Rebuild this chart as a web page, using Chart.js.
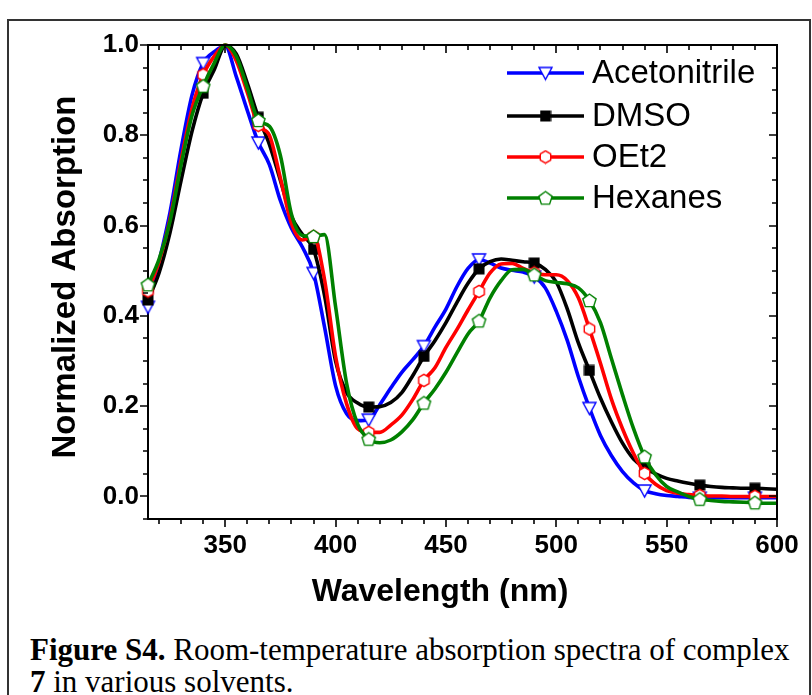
<!DOCTYPE html>
<html><head><meta charset="utf-8">
<script src="https://cdn.jsdelivr.net/npm/chart.js@4.4.1/dist/chart.umd.min.js"></script>
<style>
html,body{margin:0;padding:0;background:#fff;}
#wrap{position:relative;width:812px;height:695px;overflow:hidden;background:#fff;}
#frame{position:absolute;left:7px;top:19px;width:804px;height:720px;border:2px solid #333;box-sizing:border-box;}
#c{position:absolute;left:0;top:0;}
#cap{position:absolute;left:30px;top:634px;font-family:"Liberation Serif","Times New Roman",serif;font-size:31px;line-height:32px;color:#000;white-space:nowrap;}
</style></head>
<body><div id="wrap"><div id="frame"></div><canvas id="c" width="812" height="625"></canvas>
<div id="cap"><b>Figure S4.</b> Room-temperature absorption spectra of complex<br><b>7</b> in various solvents.</div></div>
<script>
// ---- data ----
const wavelengths = [315,320,325,330,335,340,345,350,355,360,365,370,375,380,385,390,395,400,405,410,415,420,425,430,435,440,445,450,455,460,465,470,475,480,485,490,495,500,505,510,515,520,525,530,535,540,545,550,555,560,565,570,575,580,585,590,595,600];
const acetonitrile = [0.42,0.52,0.63,0.77,0.89,0.96,0.985,0.998,0.93,0.855,0.784,0.735,0.655,0.594,0.552,0.495,0.375,0.245,0.183,0.168,0.17,0.203,0.24,0.275,0.303,0.333,0.375,0.415,0.465,0.505,0.525,0.517,0.506,0.501,0.497,0.487,0.462,0.41,0.345,0.265,0.196,0.135,0.09,0.055,0.03,0.013,0.006,0.002,0.0,-0.002,-0.003,-0.003,-0.003,-0.003,-0.003,-0.003,-0.003,-0.003];
const dmso = [0.435,0.495,0.585,0.70,0.81,0.893,0.945,0.998,0.98,0.915,0.84,0.78,0.70,0.62,0.58,0.547,0.445,0.30,0.23,0.207,0.198,0.199,0.208,0.23,0.268,0.31,0.345,0.385,0.43,0.472,0.504,0.52,0.526,0.523,0.52,0.517,0.503,0.475,0.415,0.34,0.279,0.218,0.165,0.118,0.083,0.064,0.05,0.04,0.034,0.029,0.025,0.022,0.02,0.019,0.018,0.018,0.017,0.016];
const oet2 = [0.455,0.52,0.615,0.745,0.86,0.934,0.975,1.0,0.965,0.895,0.822,0.80,0.705,0.605,0.568,0.576,0.48,0.31,0.205,0.15,0.142,0.142,0.158,0.18,0.215,0.257,0.285,0.33,0.37,0.413,0.454,0.495,0.515,0.516,0.505,0.495,0.491,0.491,0.478,0.44,0.371,0.295,0.215,0.15,0.095,0.051,0.027,0.013,0.007,0.004,0.002,0.001,0.001,0.0,0.0,0.0,0.0,0.0];
const hexanes = [0.469,0.525,0.61,0.735,0.845,0.909,0.96,1.0,0.975,0.905,0.833,0.82,0.755,0.625,0.578,0.576,0.58,0.42,0.25,0.16,0.127,0.119,0.125,0.143,0.17,0.207,0.238,0.275,0.318,0.36,0.389,0.44,0.478,0.502,0.503,0.491,0.478,0.474,0.471,0.462,0.434,0.385,0.305,0.225,0.15,0.088,0.048,0.022,0.01,0.0,-0.006,-0.009,-0.011,-0.012,-0.013,-0.014,-0.015,-0.015];
const markerWavelengths = [315,340,365,390,415,440,465,490,515,540,565,590];
const seriesNames = ['Acetonitrile','DMSO','OEt2','Hexanes'];
const seriesColors = ['#0000ff','#000000','#ff0000','#008000'];
const xTitle = 'Wavelength (nm)';
const yTitle = 'Normalized Absorption';
const xTickLabels = [350,400,450,500,550,600];
const xMinorTicks = [320,330,340,350,360,370,380,390,400,410,420,430,440,450,460,470,480,490,500,510,520,530,540,550,560,570,580,590,600];
const yTickLabels = [0.0,0.2,0.4,0.6,0.8,1.0];
const yMinorTicks = [-0.05,0.0,0.05,0.1,0.15,0.2,0.25,0.3,0.35,0.4,0.45,0.5,0.55,0.6,0.65,0.7,0.75,0.8,0.85,0.9,0.95,1.0];

// ---- markers ----
function mk(size, draw){const c=document.createElement('canvas');c.width=size;c.height=size;const g=c.getContext('2d');draw(g,size);return c;}
const markers = [
  mk(17,(g,s)=>{g.beginPath();g.moveTo(2,3);g.lineTo(15,3);g.lineTo(8.5,15);g.closePath();g.fillStyle='#fff';g.fill();g.strokeStyle='#0000ff';g.lineWidth=1.4;g.stroke();}),
  mk(12,(g,s)=>{g.fillStyle='#000';g.fillRect(0.5,0.5,11,11);}),
  mk(15,(g,s)=>{g.beginPath();for(let i=0;i<6;i++){const a=Math.PI/6+i*Math.PI/3;const px=7.5+6*Math.cos(a),py=7.5+6.2*Math.sin(a);i?g.lineTo(px,py):g.moveTo(px,py);}g.closePath();g.fillStyle='#fff';g.fill();g.strokeStyle='#ff0000';g.lineWidth=1.4;g.stroke();}),
  mk(17,(g,s)=>{g.beginPath();for(let i=0;i<5;i++){const a=-Math.PI/2+i*2*Math.PI/5;const px=8.5+7*Math.cos(a),py=9+7*Math.sin(a);i?g.lineTo(px,py):g.moveTo(px,py);}g.closePath();g.fillStyle='#fff';g.fill();g.strokeStyle='#008000';g.lineWidth=1.4;g.stroke();})
];

const seriesValues = [acetonitrile, dmso, oet2, hexanes];
const datasets = seriesValues.map((vals,i)=>({
  label: seriesNames[i],
  data: wavelengths.map((w,j)=>({x:w,y:vals[j]})),
  borderColor: seriesColors[i],
  backgroundColor: seriesColors[i],
  borderWidth: 3.6,
  cubicInterpolationMode: 'monotone',
  pointStyle: markers[i],
  pointRadius: ctx => markerWavelengths.includes(wavelengths[ctx.dataIndex]) ? 6 : 0,
  pointHoverRadius: 0,
  clip: false,
  order: 4 - i
}));

const FONT = '"Liberation Sans", Arial, Helvetica, sans-serif';
Chart.defaults.font.family = FONT;
Chart.defaults.color = '#000';

const frameTicks = {
  id: 'frameTicks',
  afterDraw(chart){
    const {ctx, chartArea:a, scales:{x,y}} = chart;
    ctx.save();
    ctx.strokeStyle = '#000'; ctx.lineWidth = 2;
    ctx.beginPath(); ctx.moveTo(a.left-1,a.top); ctx.lineTo(a.right,a.top); ctx.lineTo(a.right,a.bottom+1); ctx.stroke();
    ctx.lineWidth = 1.6;
    ctx.beginPath();
    xMinorTicks.forEach(v=>{
      const px = Math.round(x.getPixelForValue(v));
      const L = xTickLabels.includes(v) ? 8 : 5;
      ctx.moveTo(px, a.bottom); ctx.lineTo(px, a.bottom+L);
      ctx.moveTo(px, a.top); ctx.lineTo(px, a.top+L);
    });
    yMinorTicks.forEach(v=>{
      const py = Math.round(y.getPixelForValue(v));
      const L = yTickLabels.some(t=>Math.abs(t-v)<1e-9) ? 8 : 5;
      ctx.moveTo(a.left-L, py); ctx.lineTo(a.left, py);
      ctx.moveTo(a.right-L, py); ctx.lineTo(a.right, py);
    });
    ctx.stroke();
    // axis titles
    ctx.fillStyle = '#000';
    ctx.textAlign = 'center'; ctx.textBaseline = 'middle';
    ctx.font = 'bold 32px ' + FONT;
    ctx.fillText(xTitle, a.left + 292, a.bottom + 73);
    ctx.save();
    ctx.translate(66, a.top + 232);
    ctx.rotate(-Math.PI/2);
    ctx.font = 'bold 33px ' + FONT;
    ctx.fillText(yTitle, 0, 0);
    ctx.restore();
    ctx.restore();
  }
};

const legendPlugin = {
  id: 'customLegend',
  afterDraw(chart){
    const {ctx, chartArea:a} = chart;
    ctx.save();
    const x0 = a.right - 270, x1 = a.right - 193, xm = (x0+x1)/2, xt = a.right - 185;
    const rows = [28, 71, 112, 153];
    chart.data.datasets.forEach((ds,i)=>{
      const yy = a.top + rows[i];
      ctx.strokeStyle = ds.borderColor; ctx.lineWidth = 3.6;
      ctx.beginPath(); ctx.moveTo(x0,yy); ctx.lineTo(x1,yy); ctx.stroke();
      const m = markers[i];
      ctx.drawImage(m, xm - m.width/2, yy - m.height/2);
      ctx.fillStyle = '#000'; ctx.font = '33px ' + FONT; ctx.textBaseline = 'middle'; ctx.textAlign = 'left';
      ctx.fillText(ds.label, xt, yy+1);
    });
    ctx.restore();
  }
};

new Chart(document.getElementById('c'), {
  type: 'line',
  data: { datasets },
  options: {
    responsive: false,
    animation: false,
    events: [],
    layout: { padding: { left: 0, top: 45, right: 35, bottom: 0 } },
    plugins: { legend: { display: false }, tooltip: { enabled: false } },
    scales: {
      x: {
        type: 'linear', min: 315, max: 600,
        afterBuildTicks: s => { s.ticks = xTickLabels.map(v=>({value:v})); },
        afterFit: s => { s.height = 106; },
        ticks: { font: { size: 26, weight: 'bold' }, color: '#000', padding: 3, maxRotation: 0, autoSkip: false, callback: v => String(v) },
        grid: { display: false },
        border: { display: true, color: '#000', width: 2 },
        title: { display: false, text: xTitle }
      },
      y: {
        type: 'linear', min: -0.05, max: 1.0,
        afterBuildTicks: s => { s.ticks = yTickLabels.map(v=>({value:v})); },
        afterFit: s => { s.width = 148; },
        ticks: { font: { size: 26, weight: 'bold' }, color: '#000', padding: 1, autoSkip: false, callback: v => v.toFixed(1) },
        grid: { display: false },
        border: { display: true, color: '#000', width: 2 },
        title: { display: false, text: yTitle }
      }
    }
  },
  plugins: [frameTicks, legendPlugin]
});
</script>
</body></html>
